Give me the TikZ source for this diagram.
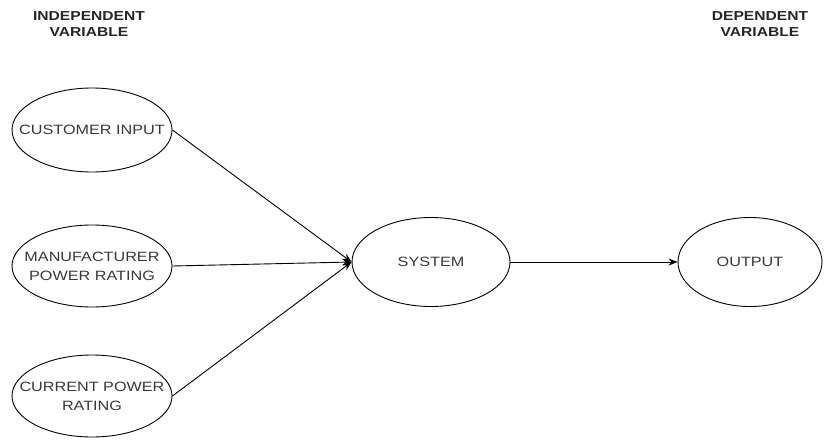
\documentclass[tikz,border=0pt]{standalone}
\usepackage{fontspec}
\setmainfont{Liberation Sans}[FakeStretch=1.2]
\usetikzlibrary{shapes.geometric,arrows.meta}
\begin{document}
\begin{tikzpicture}[x=1pt,y=-1pt,
  ell/.style={ellipse,draw=black,line width=0.9pt,inner sep=0pt},
  lbl/.style={text=black!78,font=\fontsize{13.5}{19}\selectfont,align=center,inner sep=0pt},
  hdr/.style={font=\fontsize{13}{16.5}\selectfont\bfseries,text=black!85,align=center},
  conn/.style={draw=black,line width=0.9pt,-{Stealth[length=9pt,width=7pt]}}]
\useasboundingbox (0,0) rectangle (824,439);
\node[hdr] (indep) at (89,24) {INDEPENDENT\\VARIABLE};
\node[hdr] (dep) at (760,24) {DEPENDENT\\VARIABLE};
\node[ell,minimum width=160pt,minimum height=84pt] (cust) at (92,130) {};
\node[lbl] (custt) at (cust) {CUSTOMER INPUT};
\node[ell,minimum width=160pt,minimum height=82pt] (manu) at (92,266) {};
\node[lbl] (manut) at (manu) {MANUFACTURER\\POWER RATING};
\node[ell,minimum width=160pt,minimum height=82pt] (curr) at (92,396) {};
\node[lbl] (currt) at (curr) {CURRENT POWER\\RATING};
\node[ell,minimum width=158pt,minimum height=89pt] (sys) at (431,262) {};
\node[lbl] (syst) at (sys) {SYSTEM};
\node[ell,minimum width=144pt,minimum height=89pt] (out) at (750,262) {};
\node[lbl] (outt) at (out) {OUTPUT};
\draw[conn] (cust.east) -- (sys.west);
\draw[conn] (manu.east) -- (sys.west);
\draw[conn] (curr.east) -- (sys.west);
\draw[conn] (sys.east) -- (out.west);
\end{tikzpicture}
\end{document}
